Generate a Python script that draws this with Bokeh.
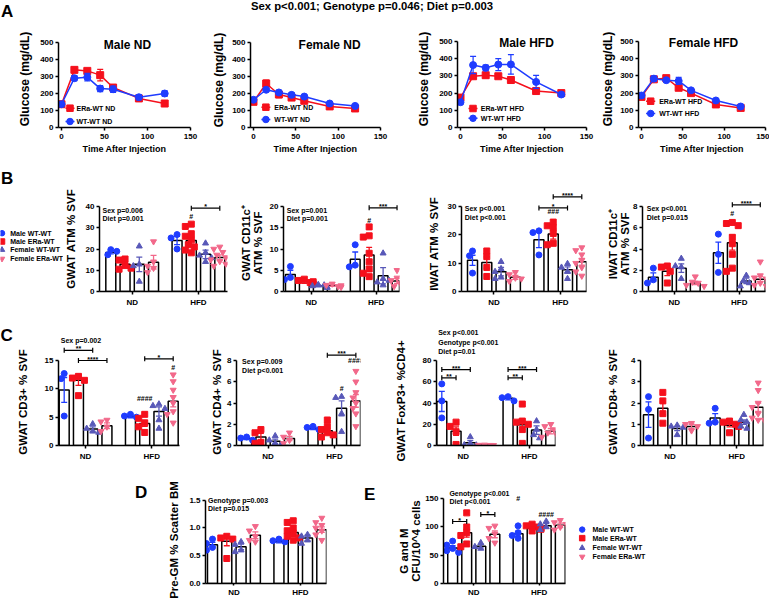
import math
import html
from bokeh.plotting import figure
from bokeh.layouts import row, column
from bokeh.models import Label, FixedTicker, Range1d, NumeralTickFormatter, Div
from bokeh.embed import file_html
from bokeh.resources import INLINE

FONT = "Liberation Sans"

# ---------------------------------------------------------------- data
TITLE = "Sex p<0.001; Genotype p=0.046; Diet p=0.003"
GROUPS = ["Male WT-WT", "Male ERa-WT", "Female WT-WT", "Female ERa-WT"]
DIETS = ["ND", "HFD"]

time_min = [0, 15, 30, 45, 60, 90, 120]
male_nd_era = [137, 339, 333, 308, 235, 171, 141]
male_nd_era_err = [6, 12, 10, 34, 12, 10, 8]
male_nd_wt = [137, 290, 296, 229, 225, 178, 200]
male_nd_wt_err = [6, 15, 22, 18, 18, 14, 15]
female_nd_era = [151, 259, 194, 176, 157, 124, 112]
female_nd_era_err = [6, 20, 18, 10, 8, 7, 7]
female_nd_wt = [163, 222, 206, 192, 182, 141, 127]
female_nd_wt_err = [6, 8, 12, 12, 8, 6, 6]
male_hfd_era = [174, 298, 304, 298, 276, 212, 200]
male_hfd_era_err = [8, 14, 15, 8, 8, 8, 8]
male_hfd_wt = [147, 363, 347, 366, 367, 265, 192]
male_hfd_wt_err = [8, 50, 16, 35, 57, 38, 10]
female_hfd_era = [178, 280, 287, 231, 200, 134, 114]
female_hfd_era_err = [8, 10, 10, 10, 8, 8, 6]
female_hfd_wt = [186, 284, 275, 271, 216, 157, 122]
female_hfd_wt_err = [8, 15, 10, 20, 8, 6, 6]

# bar order: ND (MWT, MERa, FWT, FERa), HFD (MWT, MERa, FWT, FERa)
gwat_atm_mean = [18.4, 12.8, 12.8, 13.8, 24.0, 24.0, 17.5, 16.0]
gwat_atm_sem = [0.7, 1.1, 3.4, 3.2, 1.9, 1.8, 2.0, 1.2]
gwat_atm_pts = [[19.7, 17.3, 18.9], [15.3, 14.8, 12.2, 10.5, 11.0], [21.3, 12.8, 12.0, 4.7],
                [23.5, 14.0, 11.0, 9.0, 12.0], [26.8, 25.2, 20.0],
                [31.7, 30.6, 27.2, 26.0, 24.3, 22.0, 21.0, 19.5, 18.2], [22.7, 18.3, 17.0, 14.0, 15.8],
                [21.0, 20.0, 18.5, 17.2, 16.0, 15.0, 14.2, 13.0, 12.0]]

gwat_cd11c_mean = [4.0, 2.3, 1.3, 1.4, 7.6, 8.6, 3.7, 2.5]
gwat_cd11c_sem = [1.0, 0.4, 0.2, 0.2, 1.7, 1.8, 1.9, 0.6]
gwat_cd11c_pts = [[5.9, 3.3, 2.8], [2.9, 2.6, 2.1, 1.8, 2.3], [1.6, 1.3, 1.5, 0.9, 1.1],
                  [1.8, 1.5, 1.2, 1.0, 1.4], [11.0, 6.2, 5.8], [15.2, 13.1, 12.8, 9.0, 7.0, 5.3, 4.3, 3.5],
                  [9.0, 3.0, 2.2, 1.5, 2.6], [5.0, 3.2, 2.6, 2.0, 1.6, 1.9, 3.4, 1.2]]

iwat_atm_mean = [11.0, 10.2, 7.0, 5.0, 18.3, 20.3, 7.7, 10.5]
iwat_atm_sem = [1.8, 2.0, 1.5, 0.7, 2.8, 1.8, 1.0, 1.2]
iwat_atm_pts = [[14.3, 12.6, 6.5], [14.3, 12.3, 8.5, 5.3], [10.5, 8.0, 7.0, 5.0, 4.5],
                [6.8, 6.0, 4.8, 3.6, 4.5], [21.4, 20.8, 12.9], [24.5, 23.2, 22.5, 20.5, 17.0, 16.5],
                [9.8, 8.5, 7.0, 4.5], [15.5, 14.5, 13.0, 11.0, 10.0, 8.5, 7.0, 5.5]]

iwat_cd11c_mean = [1.35, 1.9, 2.2, 0.8, 3.65, 4.6, 1.0, 1.15]
iwat_cd11c_sem = [0.4, 0.4, 0.4, 0.15, 1.0, 0.7, 0.25, 0.25]
iwat_cd11c_pts = [[2.2, 1.1, 0.8], [2.4, 2.3, 1.9, 0.8], [3.1, 2.3, 2.4, 1.2], [1.4, 0.9, 0.8, 0.6, 0.5],
                  [5.4, 3.5, 1.8], [6.5, 6.4, 6.2, 5.1, 4.5, 3.5, 2.2, 1.9], [1.5, 1.0, 0.8, 0.5],
                  [2.8, 1.5, 1.3, 1.2, 1.0, 0.8, 0.6, 0.5]]

cd3_mean = [9.8, 11.5, 2.9, 3.5, 5.1, 3.9, 6.0, 7.8]
cd3_sem = [2.2, 0.9, 0.4, 0.5, 0.2, 0.5, 0.8, 1.0]
cd3_pts = [[12.7, 11.8, 5.2], [12.2, 11.9, 11.5, 8.8], [3.8, 3.0, 2.5, 2.3], [4.5, 4.2, 3.3, 2.5],
           [5.5, 5.2, 5.0], [5.5, 4.8, 4.0, 3.3, 2.3], [7.3, 7.0, 6.5, 4.5, 3.0],
           [12.5, 11.3, 9.8, 8.5, 7.5, 6.0, 5.5, 4.0]]

cd4_mean = [0.65, 0.8, 0.4, 0.65, 1.6, 1.4, 3.5, 4.2]
cd4_sem = [0.1, 0.35, 0.2, 0.2, 0.1, 0.2, 0.7, 0.6]
cd4_pts = [[0.8, 0.7, 0.5], [1.5, 1.2, 0.3, 0.2], [0.9, 0.5, 0.2, 0.05], [1.2, 0.8, 0.5, 0.2],
           [1.8, 1.7, 1.5], [2.4, 1.8, 1.5, 1.2, 1.0, 0.8], [4.6, 4.5, 3.0, 1.3],
           [7.0, 6.0, 5.0, 4.5, 4.0, 3.5, 3.0, 1.8]]

foxp3_mean = [41.5, 13.5, 2.5, 0.5, 44.5, 19.5, 14.5, 13.5]
foxp3_sem = [9.5, 4.0, 2.0, 0.3, 1.5, 4.5, 4.0, 2.5]
foxp3_pts = [[58, 42, 26], [22, 18, 13, 1], [8, 2, 0.5, 0.3], [0.6, 0.4, 0.3, 0.2], [46, 45, 42],
             [39, 23, 22, 20, 15, 2], [23, 15, 10, 7], [20, 18, 15, 12, 10, 8]]

cd8_mean = [1.45, 1.75, 0.8, 0.9, 1.3, 0.95, 1.1, 1.8]
cd8_sem = [0.6, 0.3, 0.1, 0.1, 0.2, 0.07, 0.1, 0.2]
cd8_pts = [[2.3, 1.7, 0.35], [2.5, 2.1, 1.5, 1.05], [0.95, 0.9, 0.85, 0.5], [1.05, 1.0, 0.9, 0.7],
           [1.75, 1.1, 1.05], [1.15, 1.1, 1.0, 0.95, 0.9, 0.6], [1.45, 1.2, 1.1, 0.9, 0.8],
           [2.95, 2.6, 2.0, 1.8, 1.5, 1.3, 1.2, 1.2]]

pregm_mean = [0.70, 0.76, 0.66, 0.87, 0.75, 0.92, 0.82, 0.97]
pregm_sem = [0.04, 0.08, 0.05, 0.06, 0.02, 0.04, 0.05, 0.05]
pregm_pts = [[0.8, 0.72, 0.65, 0.6], [0.85, 0.82, 0.8, 0.45], [0.75, 0.7, 0.6, 0.57],
             [1.03, 0.95, 0.85, 0.78, 0.75], [0.8, 0.77, 0.75],
             [1.13, 1.1, 1.0, 0.95, 0.9, 0.85, 0.82, 0.78], [0.88, 0.85, 0.78, 0.72],
             [1.18, 1.1, 1.05, 1.0, 0.95, 0.88, 0.78]]

cfu_mean = [63, 90, 66, 87, 88, 98, 102, 103]
cfu_sem = [4, 8, 3, 6, 4, 2, 4, 4]
cfu_pts = [[75, 68, 62, 58, 55], [125, 100, 90, 85, 70, 65], [72, 65, 62], [102, 98, 88, 80, 72],
           [102, 90, 85, 80], [105, 102, 100, 98, 96, 93], [110, 105, 100, 95], [112, 108, 105, 100, 95]]

# ---------------------------------------------------------------- style
BLUE = "#1f3cff"
RED = "#f5101c"
PURPLE = "#5858b8"
PINK = "#f2688a"
COLORS = [BLUE, RED, PURPLE, PINK]
MARKERS = ["circle", "square", "triangle", "inverted_triangle"]
POS = [0, 1, 2, 3, 4.65, 5.65, 6.65, 7.65]
CAT_TICKS = {1.5: DIETS[0], 6.15: DIETS[1]}


class Frame:
    def __init__(self, fx0, fx1, fy0, fy1, xr, yr):
        self.fx0, self.fx1, self.fy0, self.fy1 = fx0, fx1, fy0, fy1
        self.xr, self.yr = xr, yr

    def X(self, r):
        return self.xr[0] + (r - self.fx0) * (self.xr[1] - self.xr[0]) / (self.fx1 - self.fx0)

    def Y(self, r):
        return self.yr[0] + (self.fy1 - r) * (self.yr[1] - self.yr[0]) / (self.fy1 - self.fy0)


def make_fig(cx0, cx1, ry0, ry1, fx0, fx1, fy0, fy1, xr, yr, axes=True):
    kw = {} if axes else dict(x_axis_location=None, y_axis_location=None)
    p = figure(width=int(round(cx1 - cx0)), height=int(round(ry1 - ry0)),
               x_range=Range1d(*xr), y_range=Range1d(*yr),
               output_backend="svg", toolbar_location=None, tools="", **kw)
    p.min_border_left = int(round(fx0 - cx0))
    p.min_border_right = int(round(cx1 - fx1))
    p.min_border_top = int(round(fy0 - ry0))
    p.min_border_bottom = int(round(ry1 - fy1))
    p.outline_line_color = None
    p.xgrid.visible = False
    p.ygrid.visible = False
    p.background_fill_color = "white"
    p.border_fill_color = "white"
    return p, Frame(fx0, fx1, fy0, fy1, xr, yr)


def add_text(p, x, y, text, size, align="left", baseline="middle", angle=0.0, color="black"):
    p.add_layout(Label(x=x, y=y, text=text, text_font=FONT, text_font_size=f"{size}px",
                       text_font_style="bold", text_color=color, text_align=align,
                       text_baseline=baseline, angle=angle))


def text_div(cx0, cx1, ry0, ry1, items):
    """Axis titles / panel letters placed in reference pixel coordinates."""
    w, h = int(cx1 - cx0), int(ry1 - ry0)
    spans = []
    for x, y, t, size, vertical in items:
        lx, ly = x - cx0, y - ry0
        tr = "translate(-50%,-50%) rotate(-90deg)" if vertical else "translate(0,-50%)"
        spans.append(
            f'<span style="position:absolute;left:{lx:.1f}px;top:{ly:.1f}px;transform:{tr};'
            f"white-space:nowrap;font-family:'{FONT}',Arial,sans-serif;font-weight:bold;"
            f'font-size:{size}px;line-height:1;color:#000;">{html.escape(t)}</span>')
    inner = (f'<div style="position:relative;width:{w}px;height:{h}px;overflow:visible;">'
             + "".join(spans) + "</div>")
    return Div(text=inner, width=w, height=h, margin=(0, 0, 0, 0))


def style_axes(p, xticks, yticks, ybounds, xover=None, yfmt=None, xstand=3, xout=3):
    xa, ya = p.xaxis[0], p.yaxis[0]
    for ax in (xa, ya):
        ax.axis_line_width = 1.5
        ax.axis_line_color = "black"
        ax.major_tick_line_width = 1.5
        ax.major_tick_line_color = "black"
        ax.major_tick_in = 0
        ax.major_tick_out = 3
        ax.minor_tick_line_color = None
        ax.major_label_text_font = FONT
        ax.major_label_text_font_style = "bold"
        ax.major_label_text_font_size = "8px"
        ax.major_label_text_color = "black"
    xa.major_tick_out = xout
    xa.ticker = FixedTicker(ticks=xticks)
    ya.ticker = FixedTicker(ticks=yticks)
    ya.bounds = ybounds
    ya.major_label_standoff = 2
    xa.major_label_standoff = xstand
    if xover:
        xa.major_label_overrides = xover
    if yfmt:
        ya.formatter = NumeralTickFormatter(format=yfmt)


def swarm(vals, ppy, sp, msize=5.6):
    placed, offs = [], []
    for v in vals:
        y = v * ppy
        x = 0.0
        for k in [0, -1, 1, -2, 2, -3, 3]:
            x = k * 3.0
            if all((x - a) ** 2 + (y - b) ** 2 >= msize ** 2 for a, b in placed):
                break
        placed.append((x, y))
        offs.append(x / sp)
    return offs


# ---------------------------------------------------------------- line charts (A)
def line_chart(spec, ry0, ry1, ftop, era, era_err, wt, wt_err):
    cx0, cx1 = spec["canvas"]
    x0, x150 = spec["x0"], spec["x150"]
    ytop, ybot = spec["yaxis"]
    ppu = (x150 - x0) / 150.0
    fl = x0 - 3
    xs = -3 / ppu
    ye = 500 * (ybot - ftop) / (ybot - ytop)
    p, fr = make_fig(cx0, cx1, ry0, ry1, fl, x150, ftop, ybot, (xs, 150), (0, ye))
    style_axes(p, [0, 50, 100, 150], [0, 100, 200, 300, 400, 500], (0, 500))
    xa = p.xaxis[0]
    xa.axis_label = "Time After Injection"
    xa.axis_label_text_font = FONT
    xa.axis_label_text_font_style = "bold"
    xa.axis_label_text_font_size = "9px"
    xa.axis_label_text_color = "black"
    xa.axis_label_standoff = 2
    cap = 3 / ppu
    for vals, errs, col, mk in ((era, era_err, RED, "square"), (wt, wt_err, BLUE, "circle")):
        lo = [v - e for v, e in zip(vals, errs)]
        hi = [v + e for v, e in zip(vals, errs)]
        p.segment(time_min, lo, time_min, hi, line_color=col, line_width=1.2)
        p.segment([t - cap for t in time_min], hi, [t + cap for t in time_min], hi, line_color=col, line_width=1.2)
        p.segment([t - cap for t in time_min], lo, [t + cap for t in time_min], lo, line_color=col, line_width=1.2)
        p.line(time_min, vals, line_color=col, line_width=1.5)
        p.scatter(time_min, vals, marker=mk, size=7, fill_color=col, line_color=col)
    l0, l1 = spec["leg_line"]
    for (lab, col, mk), ly in zip(((spec["labels"][0], RED, "square"), (spec["labels"][1], BLUE, "circle")),
                                  spec["leg_rows"]):
        p.segment([fr.X(l0)], [fr.Y(ly)], [fr.X(l1)], [fr.Y(ly)], line_color=col, line_width=1.5)
        p.scatter([fr.X((l0 + l1) / 2)], [fr.Y(ly)], marker=mk, size=6.5, fill_color=col, line_color=col)
        add_text(p, fr.X(spec["leg_text"]), fr.Y(ly), lab, 7)
    add_text(p, fr.X(spec["title"][1]), fr.Y(spec["title"][2]), spec["title"][0], 12, align="center")
    return p


# ---------------------------------------------------------------- bar charts
def bar_chart(spec, ry0, ry1, ftop, means, sems, pts, xstand=3, xout=3):
    cx0, cx1 = spec["canvas"]
    fx0, fx1 = spec["fx"]
    ay0, ay1 = spec["axis_y"]
    b0, b1 = spec["bars"]
    ymax = spec["ymax"]
    sp = (b1 - b0) / (POS[-1] - POS[0])
    xs = -(b0 - fx0) / sp
    xe = xs + (fx1 - fx0) / sp
    ye = ymax * (ay1 - ftop) / (ay1 - ay0)
    ppy = (ay1 - ay0) / ymax
    p, fr = make_fig(cx0, cx1, ry0, ry1, fx0, fx1, ftop, ay1, (xs, xe), (0, ye))
    style_axes(p, list(CAT_TICKS.keys()), spec["ticks"], (0, ymax), xover=CAT_TICKS,
               yfmt=spec.get("fmt"), xstand=xstand, xout=xout)
    p.vbar(x=POS, top=means, width=0.7, bottom=0, fill_color="white", line_color="black", line_width=1.5)
    for i, vals in enumerate(pts):
        g = i % 4
        offs = swarm(vals, ppy, sp)
        p.scatter([POS[i] + o for o in offs], vals, marker=MARKERS[g], size=6,
                  fill_color=COLORS[g], line_color=COLORS[g])
    cap = 3.0 / sp
    for i in range(8):
        col = COLORS[i % 4]
        lo, hi = means[i] - sems[i], means[i] + sems[i]
        p.segment([POS[i]], [lo], [POS[i]], [hi], line_color=col, line_width=1.3)
        p.segment([POS[i] - cap, POS[i] - cap], [lo, hi], [POS[i] + cap, POS[i] + cap], [lo, hi],
                  line_color=col, line_width=1.3)
    tick = 2.5 / ppy
    for i, j, yv, lab in spec.get("brackets", []):
        p.segment([POS[i]], [yv], [POS[j]], [yv], line_color="black", line_width=1.2)
        p.segment([POS[i], POS[j]], [yv - tick, yv - tick], [POS[i], POS[j]], [yv + tick, yv + tick],
                  line_color="black", line_width=1.2)
        add_text(p, (POS[i] + POS[j]) / 2, yv + 1.5 / ppy, lab, 7, align="center")
    for i, yv, lab in spec.get("hashes", []):
        add_text(p, POS[i], yv, lab, 7, align="center")
    for rx, ryy, t in spec.get("stats", []):
        add_text(p, fr.X(rx), fr.Y(ryy), t, 7)
    return p


def legend_fig(cx0, cx1, ry0, ry1, fy0, fy1, mx, tx, rows, letter=None):
    p, fr = make_fig(cx0, cx1, ry0, ry1, cx0, cx1, fy0, fy1, (cx0, cx1), (fy1, fy0), axes=False)
    for g in range(4):
        p.scatter([mx], [rows[g]], marker=MARKERS[g], size=5.5, fill_color=COLORS[g], line_color=COLORS[g])
        add_text(p, tx, rows[g], GROUPS[g], 7)
    if letter:
        add_text(p, letter[1], letter[2], letter[0], 17)
    return p


# ---------------------------------------------------------------- rows (reference pixel layout)
ROW0 = (1, 21)
ROWA = (21, 157)
ROWB = (160, 315)
ROWC = (317, 472)
ROWDE = (475, 608)
FTOP_A, FTOP_B, FTOP_C, FTOP_DE = 23, 172, 332, 495

top, _ = make_fig(3, 772, ROW0[0], ROW0[1], 3, 772, ROW0[0], ROW0[1], (3, 772), (ROW0[1], ROW0[0]), axes=False)
add_text(top, 374.5, 6.5, TITLE, 11.3, align="center")
add_text(top, 3.5, 12.3, "A", 17)

GL = "Glucose (mg/dL)"
A_specs = [
    dict(strip=(3, 40, [(28.3, 80, GL, 12, True)]),
         canvas=(40, 208), x0=64, x150=193, yaxis=(43, 128), title=("Male ND", 130, 45.5),
         leg_line=(68, 77), leg_text=79, leg_rows=(108.7, 122), labels=("ERa-WT ND", "WT-WT ND")),
    dict(strip=(208, 232, [(221.7, 80.5, GL, 12, True)]),
         canvas=(232, 410), x0=255, x150=383, yaxis=(43, 128), title=("Female ND", 331.7, 45.5),
         leg_line=(263, 272), leg_text=276, leg_rows=(107.7, 120), labels=("ERa-WT ND", "WT-WT ND")),
    dict(strip=(410, 437, [(426.7, 80, GL, 12, True)]),
         canvas=(437, 600), x0=463, x150=589, yaxis=(42, 128), title=("Male HFD", 529, 43.5),
         leg_line=(471, 480), leg_text=483.3, leg_rows=(109, 118.8), labels=("ERa-WT HFD", "WT-WT HFD")),
    dict(strip=(600, 620, [(611, 80, GL, 12, True)]),
         canvas=(620, 772), x0=642, x150=768, yaxis=(42, 128), title=("Female HFD", 705, 43.5),
         leg_line=(646.7, 656), leg_text=660, leg_rows=(101.7, 114), labels=("ERa-WT HFD", "WT-WT HFD")),
]
A_data = [(male_nd_era, male_nd_era_err, male_nd_wt, male_nd_wt_err),
          (female_nd_era, female_nd_era_err, female_nd_wt, female_nd_wt_err),
          (male_hfd_era, male_hfd_era_err, male_hfd_wt, male_hfd_wt_err),
          (female_hfd_era, female_hfd_era_err, female_hfd_wt, female_hfd_wt_err)]
rowA = []
for s, d in zip(A_specs, A_data):
    rowA.append(text_div(s["strip"][0], s["strip"][1], ROWA[0], ROWA[1], s["strip"][2]))
    rowA.append(line_chart(s, ROWA[0], ROWA[1], FTOP_A, *d))

B_specs = [
    dict(strip=(66, 84, [(75, 243, "GWAT ATM % SVF", 11.5, True)]),
         canvas=(84, 240), fx=(102, 230), axis_y=(210, 295), bars=(113.3, 222.3), ymax=40, ticks=[0, 10, 20, 30, 40],
         stats=[(105, 213.5, "Sex p=0.006"), (105, 222, "Diet p=0.001")],
         hashes=[(5, 35.3, "#")], brackets=[(5, 7, 39.2, "*")]),
    dict(strip=(240, 269, [(249.7, 247, "GWAT CD11c\u207a", 11.5, True),
                           (262.3, 247, "ATM % SVF", 11.5, True)]),
         canvas=(269, 428), fx=(284, 402), axis_y=(210, 295), bars=(291, 399.5), ymax=20, ticks=[0, 5, 10, 15, 20],
         stats=[(287.3, 213.5, "Sex p=0.001"), (287.3, 222, "Diet p=0.001")],
         hashes=[(5, 16.7, "#")], brackets=[(5, 7, 19.7, "***")]),
    dict(strip=(428, 447, [(438.3, 247.5, "IWAT ATM % SVF", 11.5, True)]),
         canvas=(447, 608), fx=(464, 589), axis_y=(210, 295), bars=(475, 584.3), ymax=30, ticks=[0, 10, 20, 30],
         stats=[(467.3, 211.7, "Sex p<0.001"), (467.3, 220.7, "Diet p<0.001")],
         hashes=[(5, 28.4, "###")], brackets=[(4, 6, 29.5, "*"), (5, 7, 33.4, "****")]),
    dict(strip=(608, 633, [(617, 247.5, "IWAT CD11c\u207a", 11.5, True),
                           (628.5, 247.5, "ATM % SVF", 11.5, True)]),
         canvas=(633, 772), fx=(643, 768), axis_y=(210, 295), bars=(654, 762.7), ymax=8, ticks=[0, 2, 4, 6, 8],
         stats=[(647.3, 211.7, "Sex p<0.001"), (647.3, 220.7, "Diet p=0.015")],
         hashes=[(5, 7.3, "#")], brackets=[(5, 7, 8.16, "****")]),
]
B_data = [(gwat_atm_mean, gwat_atm_sem, gwat_atm_pts), (gwat_cd11c_mean, gwat_cd11c_sem, gwat_cd11c_pts),
          (iwat_atm_mean, iwat_atm_sem, iwat_atm_pts), (iwat_cd11c_mean, iwat_cd11c_sem, iwat_cd11c_pts)]
rowB = [legend_fig(3, 66, ROWB[0], ROWB[1], FTOP_B, 295, 4.5, 12.7, [236.7, 245, 253.3, 262.3],
                   letter=("B", 3.5, 182))]
for s, d in zip(B_specs, B_data):
    rowB.append(text_div(s["strip"][0], s["strip"][1], ROWB[0], ROWB[1], s["strip"][2]))
    rowB.append(bar_chart(s, ROWB[0], ROWB[1], FTOP_B, *d))

C_specs = [
    dict(strip=(3, 40, [(26.7, 407.5, "GWAT CD3+ % SVF", 11.5, True), (3.5, 340.5, "C", 17, False)]),
         canvas=(40, 214), fx=(61, 182), axis_y=(366, 451), bars=(66.7, 175.7), ymax=15, ticks=[0, 5, 10, 15],
         stats=[(63.3, 346, "Sex p=0.002")],
         hashes=[(5, 8.25, "####"), (7, 13.7, "#")],
         brackets=[(0, 2, 16.8, "**"), (1, 3, 15.0, "****"), (5, 7, 15.3, "*")]),
    dict(strip=(214, 227, [(221, 408, "GWAT CD4+ % SVF", 11.5, True)]),
         canvas=(227, 398), fx=(237, 363), axis_y=(366, 451), bars=(247.3, 358.3), ymax=8, ticks=[0, 2, 4, 6, 8],
         stats=[(242.7, 367.3, "Sex p=0.009"), (242.7, 376, "Diet p<0.001")],
         hashes=[(6, 5.36, "#"), (7, 8.0, "####")], brackets=[(5, 7, 8.5, "***")]),
    dict(strip=(398, 414, [(405, 406.7, "GWAT FoxP3+ %CD4+", 11.5, True)]),
         canvas=(414, 608), fx=(439, 558), axis_y=(366, 451), bars=(444.3, 553.3), ymax=80, ticks=[0, 20, 40, 60, 80],
         stats=[(440.7, 338.3, "Sex p<0.001"), (440.7, 347.7, "Genotype p<0.001"), (440.7, 356.7, "Diet p=0.01")],
         brackets=[(0, 1, 63.7, "**"), (0, 2, 71.5, "***"), (4, 5, 63.7, "**"), (4, 6, 71.5, "***")]),
    dict(strip=(608, 627, [(616.7, 408, "GWAT CD8+ % SVF", 11.5, True)]),
         canvas=(627, 772), fx=(643, 766), axis_y=(366, 451), bars=(651, 760.7), ymax=4, ticks=[0, 1, 2, 3, 4]),
]
C_data = [(cd3_mean, cd3_sem, cd3_pts), (cd4_mean, cd4_sem, cd4_pts),
          (foxp3_mean, foxp3_sem, foxp3_pts), (cd8_mean, cd8_sem, cd8_pts)]
rowC = []
for s, d in zip(C_specs, C_data):
    rowC.append(text_div(s["strip"][0], s["strip"][1], ROWC[0], ROWC[1], s["strip"][2]))
    rowC.append(bar_chart(s, ROWC[0], ROWC[1], FTOP_C, *d))

D_spec = dict(canvas=(188, 362), fx=(208, 329), axis_y=(509, 594), bars=(215, 324.3), ymax=1.5,
              ticks=[0, 0.5, 1.0, 1.5], fmt="0.0",
              stats=[(210.5, 509.3, "Genotype p=0.003"), (210.5, 517.3, "Diet p=0.015")])
E_spec = dict(canvas=(425, 578), fx=(444, 568), axis_y=(507.5, 594), bars=(453.3, 562.7), ymax=150,
              ticks=[0, 50, 100, 150],
              stats=[(450, 501.7, "Genotype p<0.001"), (450, 510.7, "Diet p<0.001")],
              hashes=[(4, 150, "#"), (6, 123, "####")], brackets=[(0, 1, 109.7, "*"), (2, 3, 122, "*")])
stripD = text_div(3, 188, ROWDE[0], ROWDE[1], [(178.3, 549, "Pre-GM % Scatter BM", 11.5, True),
                                               (138, 501, "D", 17, False)])
pD = bar_chart(D_spec, ROWDE[0], ROWDE[1], FTOP_DE, pregm_mean, pregm_sem, pregm_pts, xstand=2, xout=2)
stripE = text_div(362, 425, ROWDE[0], ROWDE[1], [(407.5, 560, "G and M", 11.5, True),
                                                 (419.5, 550, "CFU/10^4 cells", 11.5, True),
                                                 (367, 502.5, "E", 17, False)])
pE = bar_chart(E_spec, ROWDE[0], ROWDE[1], FTOP_DE, cfu_mean, cfu_sem, cfu_pts, xstand=2, xout=2)
legE = legend_fig(578, 772, ROWDE[0], ROWDE[1], FTOP_DE, 594, 584.7, 595, [539, 547.7, 557.7, 566.7])

layout = column(top, row(*rowA), row(*rowB), row(*rowC), row(stripD, pD, stripE, pE, legE))

with open("out.html", "w") as f:
    f.write(file_html(layout, INLINE))
